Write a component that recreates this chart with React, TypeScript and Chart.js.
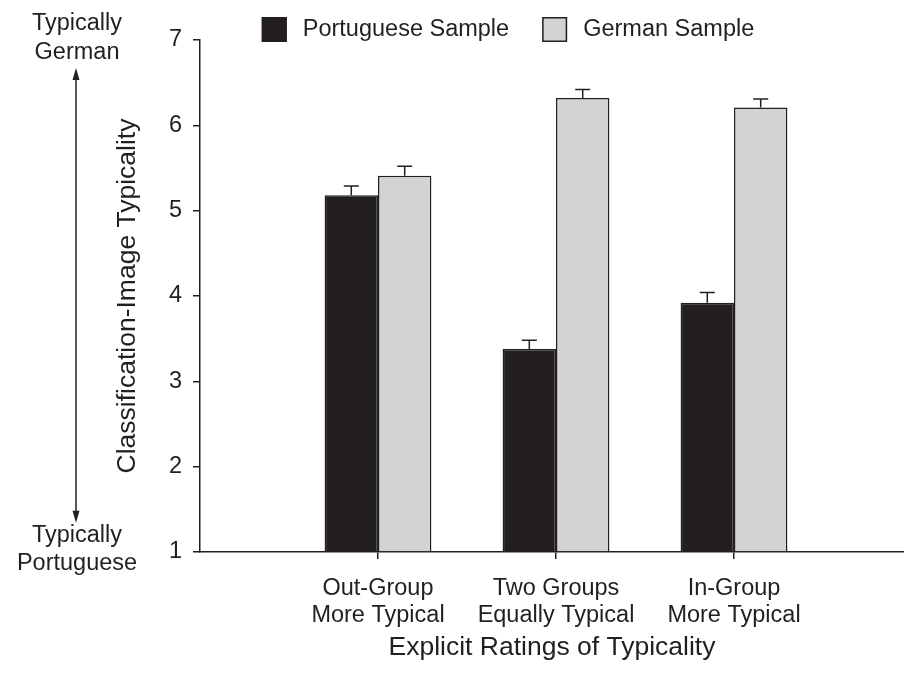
import React, { useEffect, useRef } from "react";
import { Chart, registerables } from "chart.js";

Chart.register(...registerables);

const categories: string[][] = [
  ["Out-Group", "More Typical"],
  ["Two Groups", "Equally Typical"],
  ["In-Group", "More Typical"],
];
const seriesNames = ["Portuguese Sample", "German Sample"];
const portuguese = [5.18, 3.38, 3.92];
const portugueseErr = [0.11, 0.1, 0.12];
const german = [5.41, 6.32, 6.21];
const germanErr = [0.11, 0.1, 0.1];
const yTicks = [1, 2, 3, 4, 5, 6, 7];
const topNote = ["Typically", "German"];
const bottomNote = ["Typically", "Portuguese"];

const DARK = "#231f20";
const GRAY = "#d1d3d4";
const FONT = "'Liberation Sans', Arial, Helvetica, sans-serif";

const positions = categories.map((_, i) => i + 1);

const errorBarPlugin = {
  id: "errorBars",
  afterDatasetsDraw(chart: any) {
    const ctx = chart.ctx;
    const y = chart.scales.y;
    const errs = [portugueseErr, germanErr];
    ctx.save();
    ctx.strokeStyle = DARK;
    ctx.lineWidth = 1.5;
    chart.data.datasets.forEach((ds: any, di: number) => {
      const meta = chart.getDatasetMeta(di);
      meta.data.forEach((bar: any, i: number) => {
        const v = ds.data[i].y;
        const top = y.getPixelForValue(v + errs[di][i]);
        const base = y.getPixelForValue(v);
        ctx.beginPath();
        ctx.moveTo(bar.x, base);
        ctx.lineTo(bar.x, top);
        ctx.moveTo(bar.x - 7.5, top);
        ctx.lineTo(bar.x + 7.5, top);
        ctx.stroke();
      });
    });
    ctx.restore();
  },
};

const annotationPlugin = {
  id: "annotations",
  afterDraw(chart: any) {
    const ctx = chart.ctx;
    const area = chart.chartArea;
    ctx.save();
    // legend
    ctx.font = `23.5px ${FONT}`;
    ctx.textBaseline = "middle";
    ctx.textAlign = "left";
    const box = 25;
    const gap = 16;
    const itemGap = 33;
    const widths = seriesNames.map((n) => ctx.measureText(n).width);
    const total = widths.reduce((a, w) => a + box + gap + w, 0) + itemGap * (seriesNames.length - 1);
    const cx = (chart.scales.y.left + area.right) / 2;
    let x = cx - total / 2;
    const ly = 29.5;
    const fills = [DARK, GRAY];
    seriesNames.forEach((n, i) => {
      ctx.fillStyle = fills[i];
      ctx.fillRect(x, ly - box / 2, box, box);
      ctx.strokeStyle = DARK;
      ctx.lineWidth = 1.5;
      ctx.strokeRect(x + 0.75, ly - box / 2 + 0.75, box - 1.5, box - 1.5);
      ctx.fillStyle = DARK;
      ctx.fillText(n, x + box + gap, ly);
      x += box + gap + widths[i] + itemGap;
    });
    // left notes
    ctx.textAlign = "center";
    const nx = 77;
    ctx.fillText(topNote[0], nx, 23.5);
    ctx.fillText(topNote[1], nx, 52.8);
    ctx.fillText(bottomNote[0], nx, 535.8);
    ctx.fillText(bottomNote[1], nx, 563.5);
    // arrow
    const ax = 76;
    const t = 68;
    const b = 522.7;
    ctx.strokeStyle = DARK;
    ctx.lineWidth = 1.5;
    ctx.beginPath();
    ctx.moveTo(ax, t + 6);
    ctx.lineTo(ax, b - 6);
    ctx.stroke();
    ctx.fillStyle = DARK;
    ctx.beginPath();
    ctx.moveTo(ax, t);
    ctx.lineTo(ax - 3.5, t + 12);
    ctx.lineTo(ax + 3.5, t + 12);
    ctx.closePath();
    ctx.fill();
    ctx.beginPath();
    ctx.moveTo(ax, b);
    ctx.lineTo(ax - 3.5, b - 12);
    ctx.lineTo(ax + 3.5, b - 12);
    ctx.closePath();
    ctx.fill();
    ctx.restore();
  },
};

export default function App() {
  const ref = useRef<HTMLCanvasElement>(null);
  useEffect(() => {
    if (!ref.current) return;
    Chart.defaults.font.family = FONT;
    Chart.defaults.color = DARK;
    const chart = new Chart(ref.current, {
      type: "bar",
      data: {
        datasets: [
          {
            label: seriesNames[0],
            data: positions.map((p, i) => ({ x: p, y: portuguese[i] })),
            backgroundColor: DARK,
            borderColor: DARK,
            borderWidth: 1.5,
            base: 1,
          } as any,
          {
            label: seriesNames[1],
            data: positions.map((p, i) => ({ x: p, y: german[i] })),
            backgroundColor: GRAY,
            borderColor: DARK,
            borderWidth: 1.5,
            base: 1,
          } as any,
        ],
      },
      options: {
        animation: false,
        responsive: true,
        maintainAspectRatio: false,
        layout: { padding: { left: 112, top: 40, right: 0, bottom: 0 } },
        datasets: { bar: { categoryPercentage: 0.6, barPercentage: 1 } },
        plugins: { legend: { display: false }, tooltip: { enabled: false } },
        scales: {
          x: {
            type: "linear",
            min: 0,
            max: 704 / 178,
            offset: false,
            afterBuildTicks: (scale: any) => {
              scale.ticks = positions.map((v) => ({ value: v }));
            },
            afterFit: (scale: any) => {
              scale.height = 126;
            },
            grid: {
              display: true,
              offset: false,
              drawOnChartArea: false,
              drawTicks: true,
              tickLength: 7,
              color: DARK,
              lineWidth: 1.5,
            },
            border: { display: true, color: DARK, width: 1.5 },
            ticks: {
              padding: 16,
              font: { size: 23.5, lineHeight: 1.15 },
              color: DARK,
              maxRotation: 0,
              autoSkip: false,
              callback: (v: any) => categories[Number(v) - 1] ?? "",
            },
            title: {
              display: true,
              text: "Explicit Ratings of Typicality",
              font: { size: 26.5 },
              color: DARK,
              padding: { top: 0, bottom: 14 },
            },
          },
          y: {
            min: yTicks[0],
            max: yTicks[yTicks.length - 1],
            afterBuildTicks: (scale: any) => {
              scale.ticks = yTicks.map((v) => ({ value: v }));
            },
            afterFit: (scale: any) => {
              scale.width = 88;
            },
            grid: {
              display: true,
              drawOnChartArea: false,
              drawTicks: true,
              tickLength: 7,
              color: DARK,
              lineWidth: 1.5,
            },
            border: { display: true, color: DARK, width: 1.5 },
            ticks: { padding: 11, font: { size: 23.5 }, color: DARK },
            title: {
              display: true,
              text: "Classification-Image Typicality",
              font: { size: 26.5 },
              color: DARK,
              padding: { top: 0, bottom: 0 },
            },
          },
        },
      },
      plugins: [errorBarPlugin, annotationPlugin],
    });
    return () => chart.destroy();
  }, []);
  return (
    <div style={{ position: "absolute", left: 0, top: 0, width: 904, height: 678 }}>
      <canvas ref={ref} />
    </div>
  );
}
